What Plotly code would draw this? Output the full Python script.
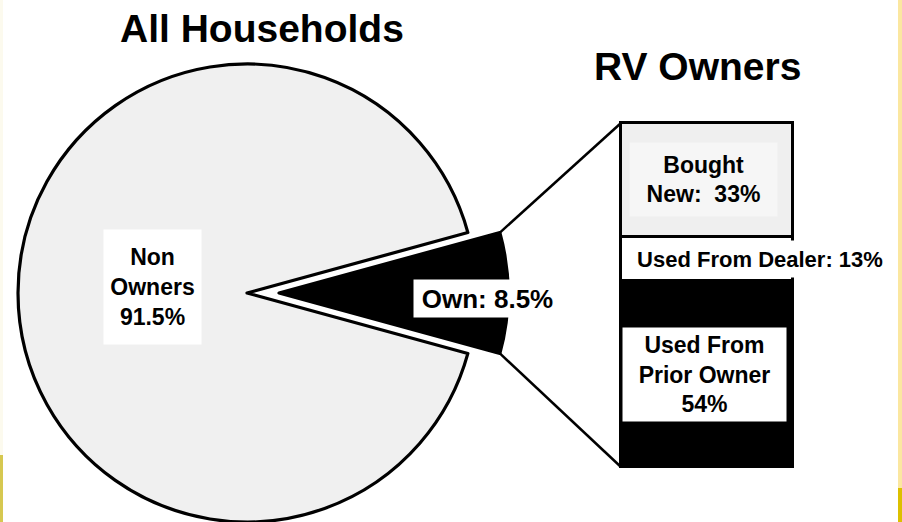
import math
import plotly.graph_objects as go

# ---------------- data ----------------
pie_labels = ["Own", "Non Owners"]
pie_values = [8.5, 91.5]
pie_text = ["Own: 8.5%", "Non<br>Owners<br>91.5%"]

bar_labels = ["Bought New", "Used From Dealer", "Used From Prior Owner"]
bar_values = [33, 13, 54]
bar_text = ["Bought<br>New:  33%", "Used From Dealer: 13%", "Used From<br>Prior Owner<br>54%"]
bar_colors = ["#efefef", "#ffffff", "#000000"]

titles = ["All Households", "RV Owners"]

# ---------------- layout geometry (pixels) ----------------
W, H = 902, 522
PIE_CX, PIE_CY, PIE_R = 247, 293, 229
PULL_PX = 32
BAR_X0, BAR_X1, BAR_Y0, BAR_Y1 = 621, 793, 123, 467
PAD = 4
FONT = "Liberation Sans, Arial, sans-serif"
LINE_W = 3.2


def dx(a, b):
    return [max(0.0, a / W), min(1.0, b / W)]


def dy(top, bottom):
    return [max(0.0, (H - bottom) / H), min(1.0, (H - top) / H)]


total = sum(pie_values)
own_share = pie_values[0] / total
rotation = 90 - own_share * 180
half = own_share * math.pi

fig = go.Figure()

# Main pie: only the "Non Owners" slice is visible, leaving a notch
fig.add_trace(go.Pie(
    labels=pie_labels, values=pie_values, sort=False, direction="clockwise",
    rotation=rotation, textinfo="none", hoverinfo="skip", showlegend=False,
    marker=dict(colors=["rgba(0,0,0,0)", "#f0f0f0"],
                line=dict(color=["rgba(0,0,0,0)", "black"], width=[0, LINE_W])),
    domain=dict(x=dx(PIE_CX - PIE_R, PIE_CX + PIE_R), y=dy(PIE_CY - PIE_R, PIE_CY + PIE_R)),
))

# Exploded "Own" slice
fig.add_trace(go.Pie(
    labels=pie_labels, values=pie_values, sort=False, direction="clockwise",
    rotation=rotation, textinfo="none", hoverinfo="skip", showlegend=False,
    marker=dict(colors=["black", "rgba(0,0,0,0)"],
                line=dict(color=["black", "rgba(0,0,0,0)"], width=[LINE_W, 0])),
    domain=dict(x=dx(PIE_CX + PULL_PX - PIE_R, PIE_CX + PULL_PX + PIE_R),
                y=dy(PIE_CY - PIE_R, PIE_CY + PIE_R)),
))

# Stacked bar of RV owners
for lab, val, col in zip(bar_labels, bar_values, bar_colors):
    fig.add_trace(go.Bar(
        x=[0], y=[val], name=lab, width=1,
        marker=dict(color=col, line=dict(color="black", width=3)),
        xaxis="x2", yaxis="y2", showlegend=False, hoverinfo="skip",
    ))

# Connector lines from slice corners to bar corners
sx = PIE_CX + PULL_PX + PIE_R * math.cos(half)
sy_top = PIE_CY - PIE_R * math.sin(half)
sy_bot = PIE_CY + PIE_R * math.sin(half)
fig.add_trace(go.Scatter(
    x=[sx, BAR_X0, None, sx, BAR_X0], y=[sy_top, BAR_Y0, None, sy_bot, BAR_Y1],
    mode="lines", line=dict(color="black", width=2.5), xaxis="x3", yaxis="y3",
    showlegend=False, hoverinfo="skip",
))

annotations = []
# titles
annotations.append(dict(x=262, y=28, xref="x3", yref="y3", text="<b>%s</b>" % titles[0],
                        showarrow=False, font=dict(family=FONT, size=39, color="black")))
annotations.append(dict(x=697, y=66, xref="x3", yref="y3", text="<b>%s</b>" % titles[1],
                        showarrow=False, font=dict(family=FONT, size=39, color="black")))

# pie labels
annotations.append(dict(x=487, y=298, xref="x3", yref="y3", text="<b>%s</b>" % pie_text[0],
                        showarrow=False, bgcolor="white", width=147, height=37, borderpad=0,
                        font=dict(family=FONT, size=26, color="black")))
annotations.append(dict(x=152, y=287, xref="x3", yref="y3", text="<b>%s</b>" % pie_text[1],
                        showarrow=False, bgcolor="white", width=97, height=114, borderpad=0,
                        font=dict(family=FONT, size=23, color="black")))

# bar labels, positioned at segment middles
cum = 0
mids = []
for v in bar_values:
    mids.append(cum + v / 2)
    cum += v
annotations.append(dict(x=0, y=mids[0], xref="x2", yref="y2", text="<b>%s</b>" % bar_text[0],
                        showarrow=False, bgcolor="#f6f6f6", width=147, height=73, borderpad=0,
                        xshift=-4, font=dict(family=FONT, size=23, color="black")))
annotations.append(dict(x=-0.5, y=mids[1], xref="x2", yref="y2", text="<b>%s</b>" % bar_text[1],
                        showarrow=False, bgcolor="white", width=268, height=36, borderpad=0,
                        xanchor="left", xshift=4, font=dict(family=FONT, size=22, color="black")))
annotations.append(dict(x=0, y=mids[2], xref="x2", yref="y2", text="<b>%s</b>" % bar_text[2],
                        showarrow=False, bgcolor="white", width=163, height=93, borderpad=0,
                        xshift=-3, font=dict(family=FONT, size=23, color="black")))

# decorative slide edges
shapes = [
    dict(type="rect", xref="x3", yref="y3", x0=898, x1=902, y0=0, y1=488, line=dict(width=0),
         fillcolor="#fbe7a0", layer="above"),
    dict(type="rect", xref="x3", yref="y3", x0=898, x1=902, y0=488, y1=522, line=dict(width=0),
         fillcolor="#dcc000", layer="above"),
    dict(type="rect", xref="x3", yref="y3", x0=0, x1=3, y0=0, y1=455, line=dict(width=0),
         fillcolor="#fcfaee", layer="above"),
    dict(type="rect", xref="x3", yref="y3", x0=0, x1=3, y0=455, y1=522, line=dict(width=0),
         fillcolor="#d6c850", layer="above"),
]

bw = BAR_X1 - BAR_X0
bh = BAR_Y1 - BAR_Y0
hidden = dict(visible=False, showgrid=False, zeroline=False, fixedrange=True)
fig.update_layout(
    width=W, height=H, margin=dict(l=0, r=0, t=0, b=0),
    paper_bgcolor="white", plot_bgcolor="rgba(0,0,0,0)",
    barmode="stack", bargap=0,
    xaxis2=dict(domain=dx(BAR_X0 - PAD, BAR_X1 + PAD),
                range=[-0.5 - PAD / bw, 0.5 + PAD / bw], anchor="y2", **hidden),
    yaxis2=dict(domain=dy(BAR_Y0 - PAD, BAR_Y1 + PAD),
                range=[100 + 100 * PAD / bh, -100 * PAD / bh], anchor="x2", **hidden),
    xaxis3=dict(domain=[0, 1], range=[0, W], anchor="y3", **hidden),
    yaxis3=dict(domain=[0, 1], range=[H, 0], anchor="x3", **hidden),
    xaxis=dict(visible=False), yaxis=dict(visible=False),
    annotations=annotations, shapes=shapes,
)

fig.write_html("out.html", config={"displayModeBar": False},
               post_script="document.body.style.margin='0px';")
